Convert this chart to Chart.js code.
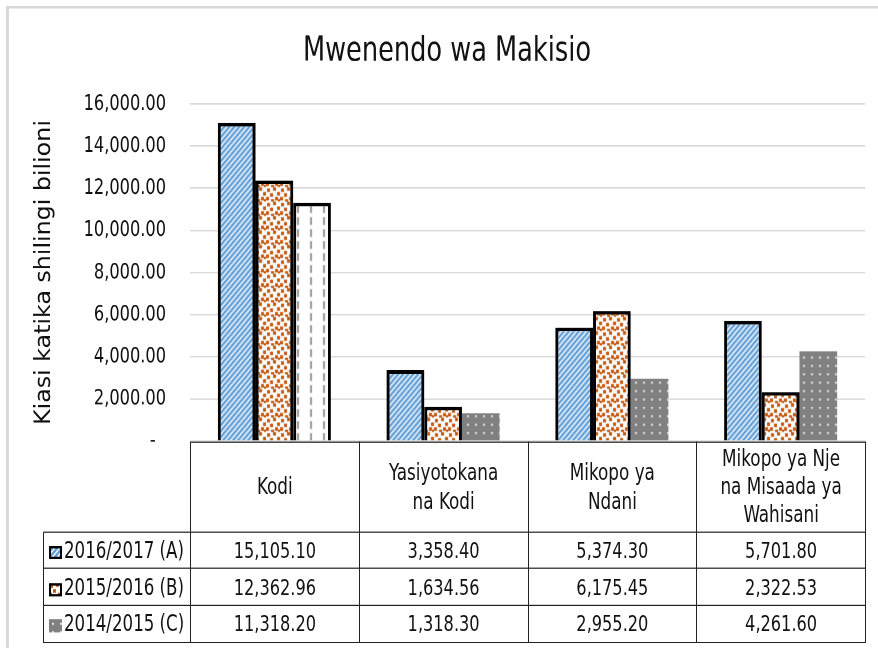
<!DOCTYPE html>
<html>
<head>
<meta charset="utf-8">
<script src="https://cdn.jsdelivr.net/npm/chart.js@4.4.1/dist/chart.umd.min.js"></script>
<style>
  html, body { margin: 0; padding: 0; background: #fff; }
  #page { position: relative; width: 878px; height: 648px; overflow: hidden; }
  /* the original picture is stretched vertically, so the whole chart is too */
  #wrap { position: absolute; left: 0; top: 0; width: 878px; height: 540px; transform: scaleY(1.2); transform-origin: 0 0; }
  #frame { position: absolute; left: 6px; top: 5px; width: 900px; height: 700px; border: 2.5px solid #d9d9d9; border-left-width: 3px; box-sizing: border-box; }
  canvas#chart { position: absolute; left: 0; top: 0; }
  #tbl { position: absolute; border-collapse: collapse; font-family: "DejaVu Sans Condensed", "DejaVu Sans", sans-serif; color: #111; table-layout: fixed; }
  #tbl td { border: 1.4px solid #222; text-align: center; padding: 0; font-size: 18px; }
  #tbl td.blank { border: none; border-right: 1.4px solid #222; border-bottom: 1.4px solid #222; }
  #tbl td.head { font-size: 18.7px; line-height: 23.7px; }
  #tbl td.rowhead { text-align: left; padding-left: 5px; white-space: nowrap; font-size: 18.5px; }
  #tbl td.rowhead canvas { vertical-align: -1px; margin-right: 2px; }
</style>
</head>
<body>
<div id="page">
<div id="wrap">
  <div id="frame"></div>
  <canvas id="chart" width="878" height="540"></canvas>
  <table id="tbl"></table>
</div>
</div>
<script>
// data
var categories = [["Kodi"], ["Yasiyotokana", "na Kodi"], ["Mikopo ya", "Ndani"], ["Mikopo ya Nje", "na Misaada ya", "Wahisani"]];
var seriesNames = ["2016/2017 (A)", "2015/2016 (B)", "2014/2015 (C)"];
var valuesA = [15105.10, 3358.40, 5374.30, 5701.80];
var valuesB = [12362.96, 1634.56, 6175.45, 2322.53];
var valuesC = [11318.20, 1318.30, 2955.20, 4261.60];
var yTicks = [0, 2000, 4000, 6000, 8000, 10000, 12000, 14000, 16000];

var FF = '"DejaVu Sans Condensed", "DejaVu Sans", sans-serif';

function fmt(v) {
    return v.toLocaleString('en-US', { minimumFractionDigits: 2, maximumFractionDigits: 2 });
}

function makePattern(w, h, draw) {
    var c = document.createElement('canvas');
    c.width = w; c.height = h;
    var g = c.getContext('2d');
    draw(g, w, h);
    return g.createPattern(c, 'repeat');
}

var stripes = makePattern(5, 5, function (g) {
    g.fillStyle = '#fff'; g.fillRect(0, 0, 5, 5);
    g.strokeStyle = '#5b9bd5'; g.lineWidth = 2.2;
    g.beginPath();
    g.moveTo(-1, 1); g.lineTo(1, -1);
    g.moveTo(0, 5); g.lineTo(5, 0);
    g.moveTo(4, 6); g.lineTo(6, 4);
    g.stroke();
});

var confetti = makePattern(14, 12, function (g) {
    g.fillStyle = '#fff'; g.fillRect(0, 0, 14, 12);
    g.fillStyle = '#c55a11';
    [[1, 1], [7, 0], [11, 4], [4, 5], [9, 8], [0, 8], [5, 10], [12, 10]].forEach(function (p) {
        g.fillRect(p[0], p[1], 3, 3);
    });
});

var dots = makePattern(8, 7, function (g) {
    g.fillStyle = '#808080'; g.fillRect(0, 0, 8, 7);
    g.fillStyle = '#e6e6e6'; g.fillRect(3, 3, 2, 1.7);
});

var dashes = makePattern(13, 10, function (g) {
    g.fillStyle = '#fff'; g.fillRect(0, 0, 13, 10);
    g.fillStyle = '#999';
    g.fillRect(11, 1, 2, 6.5);
});

var seriesFill = [stripes, confetti, [dashes, dots, dots, dots]];
var seriesBorder = [3, 3, [3, 0, 0, 0]];
var seriesValues = [valuesA, valuesB, valuesC];

// data table under the plot, lined up with the x scale
var tablePlugin = {
    id: 'datatable',
    afterDraw: function (chart) {
        var tbl = document.getElementById('tbl');
        if (tbl.dataset.done) return;
        tbl.dataset.done = '1';
        var area = chart.chartArea;
        var colW = (area.right - area.left) / categories.length;
        var left = 43;
        tbl.style.left = left + 'px';
        tbl.style.top = area.bottom + 'px';
        tbl.style.width = (area.right - left) + 'px';
        var html = '<colgroup><col style="width:' + (area.left - left) + 'px">';
        categories.forEach(function () { html += '<col style="width:' + colW + 'px">'; });
        html += '</colgroup><tr style="height:75px"><td class="blank"></td>';
        categories.forEach(function (c) {
            html += '<td class="head">' + c.join('<br>') + '</td>';
        });
        html += '</tr>';
        seriesNames.forEach(function (n, i) {
            html += '<tr style="height:30.8px"><td class="rowhead"><canvas width="13" height="11" id="key' + i + '"></canvas>' + n + '</td>';
            seriesValues[i].forEach(function (v) {
                html += '<td>' + fmt(v) + '</td>';
            });
            html += '</tr>';
        });
        tbl.innerHTML = html;
        [stripes, confetti, dots].forEach(function (p, i) {
            var g = document.getElementById('key' + i).getContext('2d');
            g.fillStyle = p; g.fillRect(0, 0, 13, 11);
            if (i < 2) { g.strokeStyle = '#000'; g.lineWidth = 2; g.strokeRect(1, 1, 11, 9); }
        });
    }
};

var ctx = document.getElementById('chart').getContext('2d');
var chart = new Chart(ctx, {
    type: 'bar',
    data: {
        labels: categories,
        datasets: seriesNames.map(function (n, i) {
            return {
                label: n,
                data: seriesValues[i],
                backgroundColor: seriesFill[i],
                borderColor: '#000',
                borderWidth: seriesBorder[i],
                categoryPercentage: 0.67,
                barPercentage: 1.0
            };
        })
    },
    options: {
        responsive: false,
        animation: false,
        devicePixelRatio: 2,
        layout: { padding: { left: 29, right: 13, top: 0, bottom: 172.5 } },
        plugins: {
            legend: { display: false },
            tooltip: { enabled: false },
            title: {
                display: true,
                text: 'Mwenendo wa Makisio',
                color: '#111',
                font: { family: FF, size: 28.5, weight: 'normal', lineHeight: 1.2 },
                padding: { top: 26.2, bottom: 26.3 }
            }
        },
        scales: {
            x: { display: false },
            y: {
                min: 0, max: 16000,
                afterBuildTicks: function (s) { s.ticks = yTicks.map(function (v) { return { value: v }; }); },
                afterFit: function (s) { s.width = 161; },
                border: { display: false },
                grid: { color: '#d9d9d9', lineWidth: 1.3, drawTicks: false },
                ticks: {
                    padding: 24,
                    color: '#111',
                    font: { family: FF, size: 18 },
                    callback: function (v) { return v === 0 ? '-  ' : fmt(v); }
                },
                title: {
                    display: true,
                    text: 'Kiasi katika shilingi bilioni',
                    color: '#111',
                    font: { family: FF, size: 22 },
                    padding: { top: 2, bottom: 0 }
                }
            }
        }
    },
    plugins: [tablePlugin]
});
</script>
</body>
</html>
